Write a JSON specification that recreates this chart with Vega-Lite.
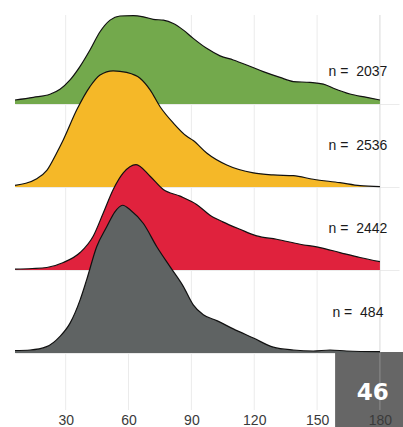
{
  "$schema": "https://vega.github.io/schema/vega-lite/v6.json",
  "autosize": {"type": "none"},
  "width": 384,
  "height": 395,
  "padding": {"left": 15, "top": 15, "right": 4, "bottom": 17},
  "background": "white",
  "config": {"view": {"stroke": null}, "font": "Liberation Sans"},
  "datasets": {
    "dens": [
      {"g": "A", "x": 5.82, "y": 3.048}, {"g": "A", "x": 14.6, "y": 3.08}, {"g": "A", "x": 22.5, "y": 3.117}, {"g": "A", "x": 27.3, "y": 3.177},
      {"g": "A", "x": 32.1, "y": 3.29}, {"g": "A", "x": 36.8, "y": 3.45}, {"g": "A", "x": 41.6, "y": 3.65}, {"g": "A", "x": 46.4, "y": 3.87},
      {"g": "A", "x": 51.2, "y": 4.01}, {"g": "A", "x": 55.9, "y": 4.06}, {"g": "A", "x": 62.3, "y": 4.065}, {"g": "A", "x": 67.1, "y": 4.05},
      {"g": "A", "x": 71.8, "y": 4.02}, {"g": "A", "x": 76.6, "y": 4.01}, {"g": "A", "x": 81.4, "y": 3.97}, {"g": "A", "x": 86.2, "y": 3.89},
      {"g": "A", "x": 90.9, "y": 3.79}, {"g": "A", "x": 97.3, "y": 3.67}, {"g": "A", "x": 103.7, "y": 3.58}, {"g": "A", "x": 110, "y": 3.53},
      {"g": "A", "x": 116.4, "y": 3.47}, {"g": "A", "x": 124.3, "y": 3.39}, {"g": "A", "x": 132.3, "y": 3.32}, {"g": "A", "x": 138.7, "y": 3.27},
      {"g": "A", "x": 146.6, "y": 3.26}, {"g": "A", "x": 153, "y": 3.24}, {"g": "A", "x": 157.8, "y": 3.19}, {"g": "A", "x": 165.7, "y": 3.12},
      {"g": "A", "x": 173.7, "y": 3.08}, {"g": "A", "x": 180, "y": 3.048},

      {"g": "B", "x": 5.82, "y": 2.02}, {"g": "B", "x": 11, "y": 2.045}, {"g": "B", "x": 16.2, "y": 2.1}, {"g": "B", "x": 21, "y": 2.2},
      {"g": "B", "x": 25.7, "y": 2.41}, {"g": "B", "x": 28.9, "y": 2.57}, {"g": "B", "x": 35.3, "y": 2.93}, {"g": "B", "x": 41.6, "y": 3.21},
      {"g": "B", "x": 46.4, "y": 3.35}, {"g": "B", "x": 52.7, "y": 3.4}, {"g": "B", "x": 59.1, "y": 3.38}, {"g": "B", "x": 65.5, "y": 3.31},
      {"g": "B", "x": 70.3, "y": 3.17}, {"g": "B", "x": 75, "y": 2.97}, {"g": "B", "x": 81.4, "y": 2.77}, {"g": "B", "x": 87.8, "y": 2.61},
      {"g": "B", "x": 90.9, "y": 2.56}, {"g": "B", "x": 97.3, "y": 2.41}, {"g": "B", "x": 106.9, "y": 2.265}, {"g": "B", "x": 119.6, "y": 2.17},
      {"g": "B", "x": 129.1, "y": 2.145}, {"g": "B", "x": 138.7, "y": 2.136}, {"g": "B", "x": 148.2, "y": 2.093}, {"g": "B", "x": 160.9, "y": 2.052},
      {"g": "B", "x": 170.5, "y": 2.016}, {"g": "B", "x": 180, "y": 2.004},

      {"g": "C", "x": 5.82, "y": 1.01}, {"g": "C", "x": 14, "y": 1.018}, {"g": "C", "x": 21, "y": 1.03}, {"g": "C", "x": 28.9, "y": 1.09},
      {"g": "C", "x": 36.9, "y": 1.21}, {"g": "C", "x": 43.2, "y": 1.41}, {"g": "C", "x": 48, "y": 1.69}, {"g": "C", "x": 52.7, "y": 1.97},
      {"g": "C", "x": 57.5, "y": 2.17}, {"g": "C", "x": 63.6, "y": 2.27}, {"g": "C", "x": 70.3, "y": 2.13}, {"g": "C", "x": 76.6, "y": 1.97},
      {"g": "C", "x": 84.6, "y": 1.89}, {"g": "C", "x": 92.5, "y": 1.79}, {"g": "C", "x": 98.9, "y": 1.66}, {"g": "C", "x": 105, "y": 1.58},
      {"g": "C", "x": 113.2, "y": 1.49}, {"g": "C", "x": 121.2, "y": 1.41}, {"g": "C", "x": 130.7, "y": 1.37}, {"g": "C", "x": 141.9, "y": 1.31},
      {"g": "C", "x": 151.4, "y": 1.27}, {"g": "C", "x": 160.9, "y": 1.21}, {"g": "C", "x": 170.5, "y": 1.15}, {"g": "C", "x": 180, "y": 1.1},

      {"g": "D", "x": 5.82, "y": 0.03}, {"g": "D", "x": 13, "y": 0.036}, {"g": "D", "x": 20.9, "y": 0.076}, {"g": "D", "x": 27.3, "y": 0.2},
      {"g": "D", "x": 32.1, "y": 0.36}, {"g": "D", "x": 36.9, "y": 0.64}, {"g": "D", "x": 40, "y": 0.88}, {"g": "D", "x": 44.8, "y": 1.28},
      {"g": "D", "x": 49.6, "y": 1.52}, {"g": "D", "x": 53.5, "y": 1.7}, {"g": "D", "x": 57.2, "y": 1.78}, {"g": "D", "x": 61, "y": 1.72},
      {"g": "D", "x": 67.1, "y": 1.56}, {"g": "D", "x": 73.5, "y": 1.28}, {"g": "D", "x": 79.8, "y": 1.04}, {"g": "D", "x": 86.2, "y": 0.8},
      {"g": "D", "x": 90.9, "y": 0.58}, {"g": "D", "x": 95.7, "y": 0.46}, {"g": "D", "x": 102.1, "y": 0.39}, {"g": "D", "x": 110, "y": 0.29},
      {"g": "D", "x": 119.6, "y": 0.18}, {"g": "D", "x": 129.1, "y": 0.07}, {"g": "D", "x": 138.7, "y": 0.036}, {"g": "D", "x": 148.2, "y": 0.024},
      {"g": "D", "x": 156.2, "y": 0.036}, {"g": "D", "x": 164.1, "y": 0.024}, {"g": "D", "x": 180, "y": 0.016}
    ],
    "ticks": [{"t": 30}, {"t": 60}, {"t": 90}, {"t": 120}, {"t": 150}, {"t": 180}],
    "nlab": [
      {"txt": "n = \u00a02037", "pos": 3.38},
      {"txt": "n = \u00a02536", "pos": 2.49},
      {"txt": "n = \u00a02442", "pos": 1.49},
      {"txt": "n = \u00a0484", "pos": 0.478}
    ],
    "badge": [{"badge": "46"}]
  },
  "layer": [
    {
      "data": {"name": "ticks"},
      "mark": {"type": "rule", "color": "#ebebeb", "strokeWidth": 1},
      "encoding": {
        "x": {
          "field": "t", "type": "quantitative",
          "scale": {"domain": [5.82, 189.1], "nice": false, "zero": false},
          "axis": {
            "values": [30, 60, 90, 120, 150, 180], "grid": false, "ticks": false, "domain": false,
            "title": null, "labelFontSize": 14, "labelColor": "#3a3a3a", "labelPadding": 3,
            "labelFont": "Liberation Sans", "zindex": 1
          }
        }
      }
    },
    {
      "data": {"name": "badge"},
      "mark": {"type": "rect", "color": "#666666", "clip": false},
      "encoding": {
        "x": {"datum": 158.6, "type": "quantitative"},
        "x2": {"datum": 191.2},
        "y": {"datum": 0.012, "type": "quantitative",
          "scale": {"domain": [-0.687, 4.072], "nice": false, "zero": false},
          "axis": {
            "values": [0, 1, 2, 3], "grid": true, "gridColor": "#ebebeb", "gridWidth": 1,
            "labels": false, "ticks": false, "domain": false, "title": null
          }
        },
        "y2": {"datum": -0.9}
      }
    },
    {
      "data": {"name": "badge"},
      "mark": {"type": "rule", "color": "#c8c8c8", "opacity": 0.4, "strokeWidth": 1},
      "encoding": {"x": {"datum": 180, "type": "quantitative"}}
    },
    {
      "data": {"name": "dens"},
      "transform": [{"filter": "datum.g === 'A'"}],
      "mark": {"type": "area", "color": "#73a94c", "opacity": 1, "interpolate": "monotone", "line": {"color": "#111111", "strokeWidth": 1.2}},
      "encoding": {"x": {"field": "x", "type": "quantitative"}, "y": {"field": "y", "type": "quantitative"}, "y2": {"datum": 3}}
    },
    {
      "data": {"name": "dens"},
      "transform": [{"filter": "datum.g === 'B'"}],
      "mark": {"type": "area", "color": "#f5b828", "opacity": 1, "interpolate": "monotone", "line": {"color": "#111111", "strokeWidth": 1.2}},
      "encoding": {"x": {"field": "x", "type": "quantitative"}, "y": {"field": "y", "type": "quantitative"}, "y2": {"datum": 2}}
    },
    {
      "data": {"name": "dens"},
      "transform": [{"filter": "datum.g === 'C'"}],
      "mark": {"type": "area", "color": "#e0223d", "opacity": 1, "interpolate": "monotone", "line": {"color": "#111111", "strokeWidth": 1.2}},
      "encoding": {"x": {"field": "x", "type": "quantitative"}, "y": {"field": "y", "type": "quantitative"}, "y2": {"datum": 1}}
    },
    {
      "data": {"name": "dens"},
      "transform": [{"filter": "datum.g === 'D'"}],
      "mark": {"type": "area", "color": "#5f6363", "opacity": 1, "interpolate": "monotone", "line": {"color": "#111111", "strokeWidth": 1.2}},
      "encoding": {"x": {"field": "x", "type": "quantitative"}, "y": {"field": "y", "type": "quantitative"}, "y2": {"datum": 0}}
    },
    {
      "data": {"name": "nlab"},
      "mark": {"type": "text", "font": "Liberation Sans", "fontSize": 14, "fill": "#1a1a1a", "align": "center", "baseline": "middle"},
      "encoding": {
        "x": {"datum": 169.5, "type": "quantitative"},
        "y": {"field": "pos", "type": "quantitative"},
        "text": {"field": "txt", "type": "nominal"}
      }
    },
    {
      "data": {"name": "badge"},
      "mark": {"type": "text", "font": "DejaVu Sans", "fontWeight": "bold", "fontSize": 23, "fill": "white", "align": "center", "baseline": "middle", "clip": false},
      "encoding": {
        "x": {"datum": 176.6, "type": "quantitative"},
        "y": {"datum": -0.485, "type": "quantitative"},
        "text": {"field": "badge", "type": "nominal"}
      }
    }
  ]
}
